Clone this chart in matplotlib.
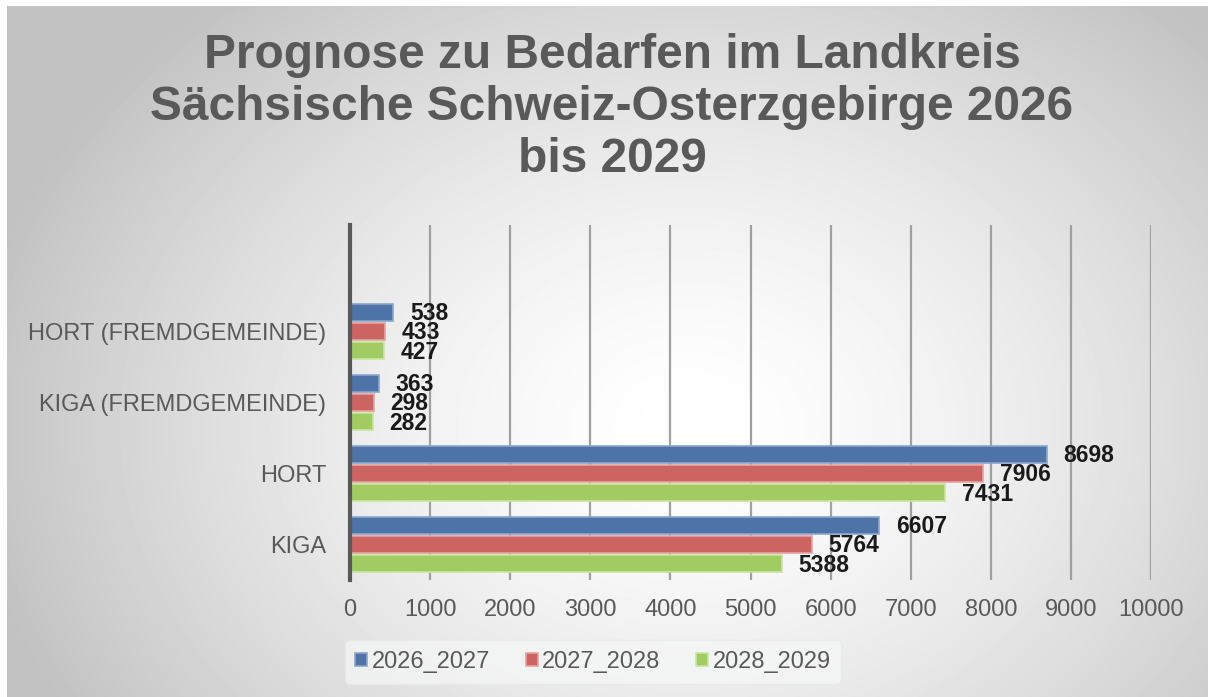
import numpy as np
import matplotlib.pyplot as plt

# --- data ---
categories = ["KIGA", "HORT", "KIGA (FREMDGEMEINDE)", "HORT (FREMDGEMEINDE)"]
series_names = ["2026_2027", "2027_2028", "2028_2029"]
values_2026_2027 = [6607, 8698, 363, 538]
values_2027_2028 = [5764, 7906, 298, 433]
values_2028_2029 = [5388, 7431, 282, 427]
x_ticks = [0, 1000, 2000, 3000, 4000, 5000, 6000, 7000, 8000, 9000, 10000]

colors = ["#4e73a6", "#cc6462", "#a0cc62"]
edge_colors = ["#8aa6cc", "#e6a3a1", "#c8e6a0"]
grey_text = "#595959"

plt.rcParams['font.family'] = ['Liberation Sans', 'DejaVu Sans']

W, H = 1208, 697
fig = plt.figure(figsize=(W / 100, H / 100), dpi=100)
fig.patch.set_facecolor("white")

# --- radial gradient background (chart area) ---
bg = fig.add_axes([7 / W, 0, 1 - 7 / W, 1 - 6 / H])
bg.set_axis_off()
yy, xx = np.mgrid[0:691, 0:1201]
cx, cy = 680, 420
r = np.sqrt(((xx - cx) / 720.0) ** 2 + ((yy - cy) / 560.0) ** 2)
shade = 1.0 - 0.24 * np.clip(r, 0, 1.0) ** 1.5
bg.imshow(shade, cmap="gray", vmin=0, vmax=1, aspect="auto", interpolation="bilinear")

# --- plot area ---
ax = fig.add_axes([350 / W, 1 - 580 / H, 801 / W, 355 / H])
ax.patch.set_alpha(0)

y = np.arange(len(categories))
bar_h = 0.27
offsets = [bar_h, 0, -bar_h]
all_series = [values_2026_2027, values_2027_2028, values_2028_2029]

for vals, off, c, ec, name in zip(all_series, offsets, colors, edge_colors, series_names):
    bars = ax.barh(y + off, vals, height=bar_h * 0.92, color=c, edgecolor=ec,
                   linewidth=1.2, label=name, zorder=3)
    for b, v in zip(bars, vals):
        ax.text(v + 210, b.get_y() + b.get_height() / 2 - 0.02, str(v),
                ha="left", va="center", fontsize=16.5, fontweight="bold",
                color="#1a1a1a", zorder=4)

ax.set_xlim(0, 10000)
ax.set_ylim(-0.5, 4.5)
ax.set_xticks(x_ticks)
ax.set_yticks(y)
ax.set_yticklabels(categories)
ax.tick_params(axis="both", length=0, labelsize=17, labelcolor=grey_text)
ax.tick_params(axis="x", pad=14)
ax.tick_params(axis="y", pad=17)

ax.grid(axis="x", color="#a0a0a0", linewidth=1.6, zorder=0)
for s in ["top", "right", "bottom"]:
    ax.spines[s].set_visible(False)
ax.spines["left"].set_color(grey_text)
ax.spines["left"].set_linewidth(3)
ax.spines["left"].set_zorder(5)

# --- title ---
fig.text(612 / W, 1 - 108 / H,
         "Prognose zu Bedarfen im Landkreis\nSächsische Schweiz-Osterzgebirge 2026\nbis 2029",
         ha="center", va="center", fontsize=34.5, fontweight="bold",
         color=grey_text, linespacing=1.2)

# --- legend ---
handles, labels = ax.get_legend_handles_labels()
leg = fig.legend(handles, labels, loc="center", bbox_to_anchor=(593 / W, 1 - 662 / H),
                 ncol=3, frameon=True, fontsize=17, handlelength=0.5, handleheight=0.5,
                 handletextpad=0.2, columnspacing=1.5, borderpad=0.45)
leg.get_frame().set_facecolor("#f6f7f7")
leg.get_frame().set_edgecolor("#e8e8e8")
leg.get_frame().set_alpha(0.7)
for t in leg.get_texts():
    t.set_color(grey_text)

fig.savefig("out.png", dpi=100)
